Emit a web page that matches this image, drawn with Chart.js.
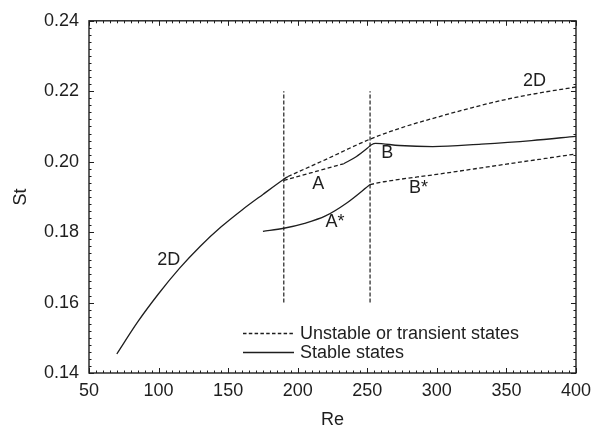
<!DOCTYPE html>
<html>
<head>
<meta charset="utf-8">
<script src="https://cdn.jsdelivr.net/npm/chart.js@4/dist/chart.umd.min.js"></script>
<style>
	html, body { margin: 0; padding: 0; background: #fff; }
	#wrap { width: 598px; height: 429px; position: relative; }
</style>
</head>
<body>
<div id="wrap"><canvas id="stChart"></canvas></div>
<script>
// Strouhal number vs Reynolds number, branch by branch
const re2dStable = [70, 85, 100, 115, 130, 145, 160, 175, 190, 193];
const st2dStable = [0.1454, 0.1545, 0.1625, 0.1697, 0.1760, 0.1815, 0.1863, 0.1907, 0.1950, 0.1958];

const re2dUnstable = [193, 220, 252, 275, 300, 325, 350, 375, 400];
const st2dUnstable = [0.1958, 0.2006, 0.2064, 0.2097, 0.2126, 0.2153, 0.2177, 0.2196, 0.2212];

const reAUnstable = [190, 233];
const stAUnstable = [0.1947, 0.1994];

const reABStable = [233, 242, 250, 253, 256, 273, 297, 332, 368, 400];
const stABStable = [0.1994, 0.2014, 0.2038, 0.2048, 0.2052, 0.2046, 0.2043, 0.2050, 0.2060, 0.2072];

const reAStar = [175, 190, 205, 220, 235, 252];
const stAStar = [0.1802, 0.1811, 0.1825, 0.1846, 0.1882, 0.1935];

const reBStar = [252, 262, 300, 350, 400];
const stBStar = [0.1935, 0.1943, 0.1964, 0.1993, 0.2022];

// transition Reynolds numbers (vertical markers)
const reTransitions = [190, 252];
const stMarkerRange = [0.16, 0.22];

// curve labels: text, Re, St (left edge, vertical middle)
const labelText = ["2D", "2D", "A", "B", "A*", "B*"];
const labelRe = [99, 362, 210.5, 260, 220, 280];
const labelSt = [0.1722, 0.2228, 0.1936, 0.2025, 0.1829, 0.1925];

const legendText = ["Unstable or transient states", "Stable states"];

const ink = "#1e1e1e";
const fontFamily = "'Liberation Sans', Arial, Helvetica, sans-serif";
const dashCurve = [4, 2.5];

function toPoints(xs, ys) {
	return xs.map((x, i) => ({ x: x, y: ys[i] }));
}

function curve(xs, ys, dashed) {
	return {
		data: toPoints(xs, ys),
		borderColor: ink,
		borderWidth: 1.3,
		borderDash: dashed ? dashCurve : [],
		pointRadius: 0,
		showLine: true,
		fill: false,
		cubicInterpolationMode: "monotone",
	};
}

const datasets = [
	curve(re2dStable, st2dStable, false),
	curve(re2dUnstable, st2dUnstable, true),
	curve(reAUnstable, stAUnstable, true),
	curve(reABStable, stABStable, false),
	curve(reAStar, stAStar, false),
	curve(reBStar, stBStar, true),
];
reTransitions.forEach((re) => {
	let d = curve([re, re], stMarkerRange, true);
	d.cubicInterpolationMode = "default";
	d.tension = 0;
	d.borderWidth = 1.2;
	d.borderDash = [4, 2];
	datasets.push(d);
});

// frame, inward ticks on all four sides, curve labels and legend
const decorations = {
	id: "decorations",
	afterDraw(chart) {
		const ctx = chart.ctx;
		const xs = chart.scales.x;
		const ys = chart.scales.y;
		const a = chart.chartArea;
		ctx.save();
		ctx.strokeStyle = ink;
		ctx.lineWidth = 1.4;
		ctx.strokeRect(a.left, a.top, a.right - a.left, a.bottom - a.top);

		ctx.lineWidth = 1;
		ctx.beginPath();
		for (let i = 0; i <= 70; i++) {
			let px = Math.round(xs.getPixelForValue(50 + i * 5)) + 0.5;
			let len = i % 10 === 0 ? 5 : 2.5;
			ctx.moveTo(px, a.bottom);
			ctx.lineTo(px, a.bottom - len);
			ctx.moveTo(px, a.top);
			ctx.lineTo(px, a.top + len);
		}
		for (let i = 0; i <= 50; i++) {
			let py = Math.round(ys.getPixelForValue(0.14 + i * 0.002)) + 0.5;
			let len = i % 10 === 0 ? 5 : 2.5;
			ctx.moveTo(a.left, py);
			ctx.lineTo(a.left + len, py);
			ctx.moveTo(a.right, py);
			ctx.lineTo(a.right - len, py);
		}
		ctx.stroke();

		ctx.fillStyle = ink;
		ctx.font = "18px " + fontFamily;
		ctx.textBaseline = "middle";
		ctx.textAlign = "left";
		labelText.forEach((t, i) => {
			ctx.fillText(t, xs.getPixelForValue(labelRe[i]), ys.getPixelForValue(labelSt[i]));
		});

		// legend
		const lx0 = 243;
		const lx1 = 294;
		const rows = [333.5, 352.5];
		ctx.lineWidth = 1.3;
		rows.forEach((y, i) => {
			ctx.setLineDash(i === 0 ? [3.5, 2.3] : []);
			ctx.beginPath();
			ctx.moveTo(lx0, y);
			ctx.lineTo(lx1, y);
			ctx.stroke();
			ctx.setLineDash([]);
			ctx.fillText(legendText[i], 300, y + 1);
		});
		ctx.restore();
	},
};

const ctx = document.getElementById("stChart");
new Chart(ctx, {
	type: "scatter",
	data: { datasets: datasets },
	options: {
		responsive: true,
		maintainAspectRatio: false,
		animation: false,
		layout: { padding: { top: 19, right: 16, left: 0, bottom: 0 } },
		plugins: {
			legend: { display: false },
			tooltip: { enabled: false },
		},
		scales: {
			x: {
				type: "linear",
				min: 50,
				max: 400,
				grid: { display: false, drawTicks: false },
				border: { display: false },
				ticks: {
					stepSize: 50,
					padding: 7,
					color: ink,
					font: { size: 18, family: fontFamily },
					maxRotation: 0,
				},
				title: {
					display: true,
					text: "Re",
					color: ink,
					font: { size: 18, family: fontFamily, lineHeight: 1 },
					padding: { top: 0, bottom: 0 },
				},
				afterFit: (s) => {
					s.height = 56;
				},
			},
			y: {
				type: "linear",
				min: 0.14,
				max: 0.24,
				grid: { display: false, drawTicks: false },
				border: { display: false },
				ticks: {
					stepSize: 0.02,
					padding: 10,
					color: ink,
					font: { size: 18, family: fontFamily },
					callback: (v) => v.toFixed(2),
				},
				title: {
					display: true,
					text: "St",
					color: ink,
					font: { size: 18, family: fontFamily },
					padding: { top: 10, bottom: 0 },
				},
				afterFit: (s) => {
					s.width = 89;
				},
			},
		},
	},
	plugins: [decorations],
});
</script>
</body>
</html>
